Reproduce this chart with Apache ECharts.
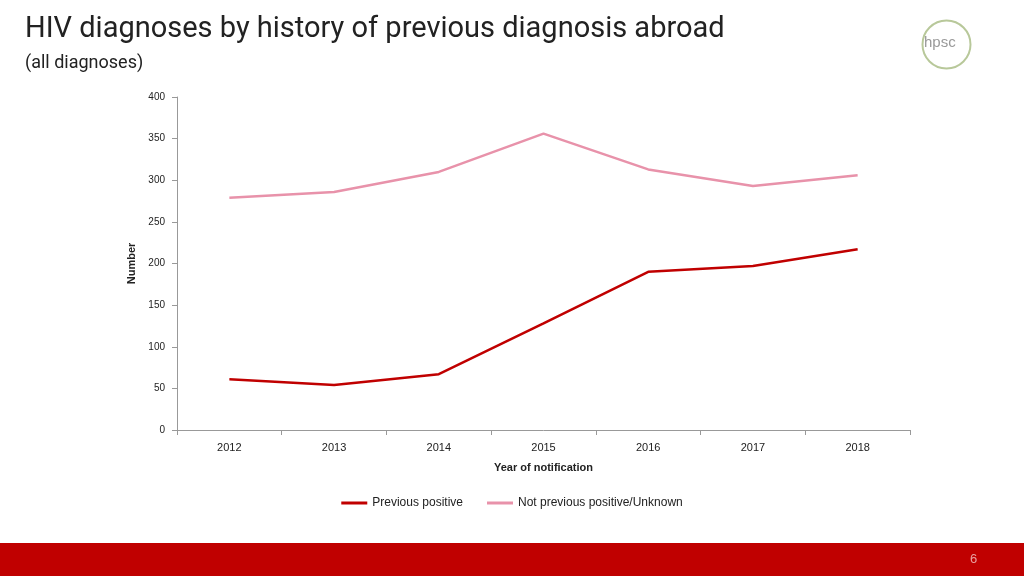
<!DOCTYPE html>
<html>
<head>
<meta charset="utf-8">
<script src="https://cdn.jsdelivr.net/npm/echarts@6/dist/echarts.min.js"></script>
<style>html,body{margin:0;padding:0;background:#fff}#main{width:1024px;height:576px}</style>
</head>
<body>
<div id="main"></div>
<script>
var years = ['2012', '2013', '2014', '2015', '2016', '2017', '2018'];
var previousPositive = [61, 54, 67, 128, 190, 197, 217];
var notPrevious = [279, 286, 310, 356, 313, 293, 306];

var chart = echarts.init(document.getElementById('main'));
chart.setOption({
    animation: false,
    title: [
        {
            text: 'HIV diagnoses by history of previous diagnosis abroad',
            left: 20, top: 10,
            textStyle: {fontSize: 29, fontWeight: 'normal', color: '#222', fontFamily: 'Liberation Sans Narrow, Roboto, sans-serif'}
        },
        {
            text: '(all diagnoses)',
            left: 20, top: 49,
            textStyle: {fontSize: 18, fontWeight: 'normal', color: '#222', fontFamily: 'Liberation Sans Narrow, Roboto, sans-serif'}
        }
    ],
    graphic: [
        {type: 'rect', left: 0, top: 543, shape: {width: 1024, height: 33}, style: {fill: '#c00000'}},
        {type: 'text', left: 970, top: 553, style: {text: '6', fill: '#e8a0a0', fontSize: 13}},
        {type: 'text', left: 924, top: 35, style: {text: 'hpsc', fill: '#999', fontSize: 15}},
        {type: 'circle', left: 920, top: 18, shape: {r: 24}, style: {fill: 'none', stroke: '#b8c89a', lineWidth: 2}}
    ],
    legend: {
        bottom: 62, left: 'center',
        itemWidth: 26, itemHeight: 3, itemGap: 24,
        icon: 'rect',
        textStyle: {fontSize: 12, color: '#222'},
        data: ['Previous positive', 'Not previous positive/Unknown']
    },
    grid: {left: 177, right: 114, top: 97, bottom: 146},
    xAxis: {
        type: 'category', data: years, boundaryGap: true,
        name: 'Year of notification', nameLocation: 'middle', nameGap: 32,
        nameTextStyle: {fontWeight: 'bold', fontSize: 11, color: '#222'},
        axisLine: {lineStyle: {color: '#999'}},
        axisTick: {show: true, length: 5, lineStyle: {color: '#999'}},
        axisLabel: {color: '#222', fontSize: 11, margin: 12}
    },
    yAxis: {
        type: 'value', min: 0, max: 400, interval: 50,
        name: 'Number', nameLocation: 'middle', nameGap: 38,
        nameTextStyle: {fontWeight: 'bold', fontSize: 11, color: '#222'},
        axisLine: {show: true, lineStyle: {color: '#999'}},
        axisTick: {show: true, length: 5, lineStyle: {color: '#999'}},
        splitLine: {show: false},
        axisLabel: {color: '#222', fontSize: 10, margin: 12}
    },
    series: [
        {name: 'Previous positive', type: 'line', data: previousPositive, showSymbol: false,
            lineStyle: {color: '#c00000', width: 2.5}, itemStyle: {color: '#c00000'}},
        {name: 'Not previous positive/Unknown', type: 'line', data: notPrevious, showSymbol: false,
            lineStyle: {color: '#e892aa', width: 2.5}, itemStyle: {color: '#e892aa'}}
    ]
});
</script>
</body>
</html>
